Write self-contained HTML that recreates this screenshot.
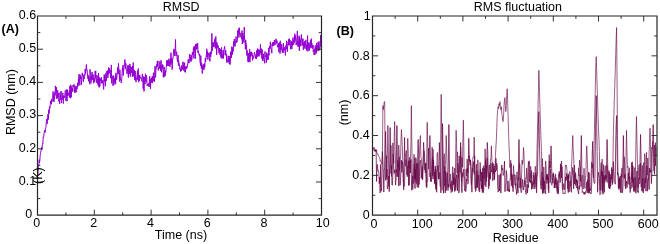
<!DOCTYPE html>
<html><head><meta charset="utf-8"><title>RMSD and RMS fluctuation</title>
<style>html,body{margin:0;padding:0;background:#fff;}svg{display:block;}</style></head>
<body>
<svg width="660" height="244" viewBox="0 0 660 244" font-family="Liberation Sans, Arial, Helvetica, sans-serif" fill="#000">
<rect width="660" height="244" fill="#fff"/>
<polyline points="37.50,174.00 37.78,174.34 38.07,172.15 38.35,166.29 38.64,165.71 38.92,165.98 39.20,159.70 39.49,162.80 39.77,161.42 40.06,156.70 40.34,154.30 40.62,152.62 40.91,151.11 41.19,149.58 41.48,150.15 41.76,147.35 42.04,148.94 42.33,144.86 42.61,143.37 42.90,143.79 43.18,136.87 43.46,137.29 43.75,136.88 44.03,133.69 44.32,131.46 44.60,131.26 44.88,129.94 45.17,132.46 45.45,129.49 45.74,127.93 46.02,126.59 46.30,122.14 46.59,121.16 46.87,119.02 47.16,123.97 47.44,118.07 47.72,117.82 48.01,114.30 48.29,119.56 48.58,110.73 48.86,109.62 49.14,113.71 49.43,106.70 49.71,108.25 50.00,108.33 50.28,104.58 50.56,100.86 50.85,100.97 51.13,102.65 51.42,104.35 51.70,99.31 51.98,101.83 52.27,97.84 52.55,97.55 52.84,95.96 53.12,91.40 53.40,100.53 53.69,94.24 53.97,101.95 54.26,96.07 54.54,99.10 54.82,92.39 55.11,95.48 55.39,85.88 55.68,92.29 55.96,89.53 56.24,92.25 56.53,87.25 56.81,98.95 57.10,94.77 57.38,98.01 57.66,90.29 57.95,96.68 58.23,95.61 58.52,93.13 58.80,101.17 59.08,99.17 59.37,101.99 59.65,103.79 59.94,92.78 60.22,92.32 60.50,99.44 60.79,97.24 61.07,91.04 61.36,103.11 61.64,98.09 61.92,99.30 62.21,99.77 62.49,98.81 62.78,92.82 63.06,94.37 63.34,103.54 63.63,96.04 63.91,96.57 64.20,95.89 64.48,97.67 64.76,95.54 65.05,92.55 65.33,90.39 65.62,92.55 65.90,100.96 66.18,98.22 66.47,95.79 66.75,89.38 67.04,101.23 67.32,89.86 67.60,95.65 67.89,94.99 68.17,92.83 68.46,94.34 68.74,94.48 69.02,96.11 69.31,90.63 69.59,97.48 69.88,85.83 70.16,97.95 70.44,98.21 70.73,84.77 71.01,90.50 71.30,97.27 71.58,86.58 71.86,91.50 72.15,92.07 72.43,88.42 72.72,91.02 73.00,85.15 73.28,87.03 73.57,86.49 73.85,84.37 74.14,84.54 74.42,92.59 74.70,87.05 74.99,85.71 75.27,86.96 75.56,92.44 75.84,87.26 76.12,92.22 76.41,86.69 76.69,86.17 76.98,89.26 77.26,88.75 77.54,82.91 77.83,84.84 78.11,86.23 78.40,79.20 78.68,84.01 78.96,74.10 79.25,78.55 79.53,77.77 79.82,85.40 80.10,74.68 80.38,78.03 80.67,78.87 80.95,76.88 81.24,79.40 81.52,84.75 81.80,77.28 82.09,74.13 82.37,72.93 82.66,75.70 82.94,74.48 83.22,80.83 83.51,81.71 83.79,75.74 84.08,78.86 84.36,74.64 84.64,75.34 84.93,75.61 85.21,68.93 85.50,73.94 85.78,70.02 86.06,69.02 86.35,64.50 86.63,67.57 86.92,70.82 87.20,70.32 87.48,76.29 87.77,77.80 88.05,79.08 88.34,74.95 88.62,81.35 88.90,79.87 89.19,79.41 89.47,77.33 89.76,84.21 90.04,69.37 90.32,72.88 90.61,74.18 90.89,83.38 91.18,78.34 91.46,75.74 91.74,80.23 92.03,72.02 92.31,78.85 92.60,79.51 92.88,78.21 93.16,74.51 93.45,78.27 93.73,83.23 94.02,78.00 94.30,81.76 94.58,79.93 94.87,78.94 95.15,71.06 95.44,77.71 95.72,70.87 96.00,79.44 96.29,82.70 96.57,82.61 96.86,75.12 97.14,75.80 97.42,78.39 97.71,83.96 97.99,82.62 98.28,85.71 98.56,73.04 98.84,85.34 99.13,87.35 99.41,77.48 99.70,86.66 99.98,85.87 100.26,78.53 100.55,79.26 100.83,80.82 101.12,81.44 101.40,77.21 101.68,83.15 101.97,81.28 102.25,83.40 102.54,82.39 102.82,80.10 103.10,83.31 103.39,86.68 103.67,89.35 103.96,79.03 104.24,74.52 104.52,81.37 104.81,75.19 105.09,78.56 105.38,86.29 105.66,77.93 105.94,72.83 106.23,78.16 106.51,80.64 106.80,71.40 107.08,73.02 107.36,70.45 107.65,76.31 107.93,78.00 108.22,73.69 108.50,67.62 108.78,74.04 109.07,70.73 109.35,70.57 109.64,68.23 109.92,72.82 110.20,70.56 110.49,76.92 110.77,78.25 111.06,73.88 111.34,64.90 111.62,83.26 111.91,76.02 112.19,75.84 112.48,77.69 112.76,78.03 113.04,85.75 113.33,75.64 113.61,79.01 113.90,84.95 114.18,81.17 114.46,78.23 114.75,81.88 115.03,82.78 115.32,75.77 115.60,84.17 115.88,72.84 116.17,77.21 116.45,79.58 116.74,79.54 117.02,75.08 117.30,73.80 117.59,67.50 117.87,70.47 118.16,74.01 118.44,63.41 118.72,67.27 119.01,72.76 119.29,75.17 119.58,81.46 119.86,69.72 120.14,75.09 120.43,79.79 120.71,79.08 121.00,81.51 121.28,83.02 121.56,81.49 121.85,77.20 122.13,73.24 122.42,67.84 122.70,70.63 122.98,65.19 123.27,75.53 123.55,69.69 123.84,69.94 124.12,67.42 124.40,63.78 124.69,60.70 124.97,59.50 125.26,65.57 125.54,68.61 125.82,63.31 126.11,69.36 126.39,70.64 126.68,69.88 126.96,73.85 127.24,73.09 127.53,67.49 127.81,65.46 128.10,71.97 128.38,77.53 128.66,65.35 128.95,74.07 129.23,69.25 129.52,73.77 129.80,63.86 130.08,65.83 130.37,76.46 130.65,66.28 130.94,68.70 131.22,68.83 131.50,67.11 131.79,73.03 132.07,69.86 132.36,76.81 132.64,66.13 132.92,74.37 133.21,62.51 133.49,76.24 133.78,69.82 134.06,73.00 134.34,70.34 134.63,79.92 134.91,78.14 135.20,71.11 135.48,80.47 135.76,77.10 136.05,82.13 136.33,77.54 136.62,76.97 136.90,76.49 137.18,74.32 137.47,70.80 137.75,79.95 138.04,71.62 138.32,68.55 138.60,82.20 138.89,79.62 139.17,75.89 139.46,80.96 139.74,74.95 140.02,76.84 140.31,76.96 140.59,78.13 140.88,78.38 141.16,77.69 141.44,77.83 141.73,79.59 142.01,81.43 142.30,73.89 142.58,76.77 142.86,77.00 143.15,88.76 143.43,82.14 143.72,76.41 144.00,91.37 144.28,77.13 144.57,79.98 144.85,83.55 145.14,84.12 145.42,73.73 145.70,76.25 145.99,82.12 146.27,76.63 146.56,75.34 146.84,78.43 147.12,85.82 147.41,85.09 147.69,84.00 147.98,86.00 148.26,85.78 148.54,83.40 148.83,84.75 149.11,87.02 149.40,80.62 149.68,76.20 149.96,84.82 150.25,80.18 150.53,88.89 150.82,78.67 151.10,82.67 151.38,82.76 151.67,78.06 151.95,81.64 152.24,76.27 152.52,83.09 152.80,76.15 153.09,81.09 153.37,72.76 153.66,75.15 153.94,80.74 154.22,77.22 154.51,81.75 154.79,70.96 155.08,66.00 155.36,76.91 155.64,77.40 155.93,68.52 156.21,68.86 156.50,65.06 156.78,64.33 157.06,66.14 157.35,61.00 157.63,66.54 157.92,60.76 158.20,70.48 158.48,69.16 158.77,67.41 159.05,68.17 159.34,68.41 159.62,66.95 159.90,61.37 160.19,68.79 160.47,65.16 160.76,71.00 161.04,60.32 161.32,67.42 161.61,72.26 161.89,67.44 162.18,64.64 162.46,68.47 162.74,64.81 163.03,64.96 163.31,77.35 163.60,71.97 163.88,72.43 164.16,66.90 164.45,76.57 164.73,72.85 165.02,76.21 165.30,75.44 165.58,70.83 165.87,72.17 166.15,67.33 166.44,66.01 166.72,60.67 167.00,64.17 167.29,60.39 167.57,65.89 167.86,60.36 168.14,62.79 168.42,66.02 168.71,59.72 168.99,58.72 169.28,62.96 169.56,60.95 169.84,66.90 170.13,64.25 170.41,58.43 170.70,64.66 170.98,52.63 171.26,61.94 171.55,63.11 171.83,58.08 172.12,69.61 172.40,64.81 172.68,58.95 172.97,58.86 173.25,55.21 173.54,52.07 173.82,49.04 174.10,49.27 174.39,51.68 174.67,55.97 174.96,50.07 175.24,47.96 175.52,39.50 175.81,53.59 176.09,55.85 176.38,53.53 176.66,51.71 176.94,56.88 177.23,60.21 177.51,60.00 177.80,62.01 178.08,55.12 178.36,65.58 178.65,60.71 178.93,63.45 179.22,63.49 179.50,66.41 179.78,69.20 180.07,69.44 180.35,68.80 180.64,71.50 180.92,70.26 181.20,66.33 181.49,70.60 181.77,65.40 182.06,66.21 182.34,68.85 182.62,69.32 182.91,61.78 183.19,69.68 183.48,70.40 183.76,68.62 184.04,62.57 184.33,69.21 184.61,62.92 184.90,72.12 185.18,67.35 185.46,72.32 185.75,66.67 186.03,66.18 186.32,66.75 186.60,68.89 186.88,66.16 187.17,67.42 187.45,64.20 187.74,64.63 188.02,61.15 188.30,59.17 188.59,63.05 188.87,62.43 189.16,63.08 189.44,54.81 189.72,53.91 190.01,55.34 190.29,60.22 190.58,57.34 190.86,61.79 191.14,55.08 191.43,60.37 191.71,60.13 192.00,58.98 192.28,52.65 192.56,52.09 192.85,54.92 193.13,55.02 193.42,47.43 193.70,54.55 193.98,58.42 194.27,45.87 194.55,50.74 194.84,49.56 195.12,49.40 195.40,58.65 195.69,43.99 195.97,47.68 196.26,49.49 196.54,49.17 196.82,43.67 197.11,48.81 197.39,45.58 197.68,43.00 197.96,52.79 198.24,50.70 198.53,52.00 198.81,54.23 199.10,54.00 199.38,55.88 199.66,53.99 199.95,61.02 200.23,63.07 200.52,65.65 200.80,55.64 201.08,63.22 201.37,68.42 201.65,62.94 201.94,67.09 202.22,73.60 202.50,71.90 202.79,65.29 203.07,68.75 203.36,64.35 203.64,69.76 203.92,69.73 204.21,69.20 204.49,63.50 204.78,67.38 205.06,62.62 205.34,58.08 205.63,61.87 205.91,59.26 206.20,55.00 206.48,54.83 206.76,48.73 207.05,57.13 207.33,53.61 207.62,51.44 207.90,59.64 208.18,56.22 208.47,53.84 208.75,53.08 209.04,52.92 209.32,52.61 209.60,57.27 209.89,61.40 210.17,57.59 210.46,52.08 210.74,56.90 211.02,51.44 211.31,54.03 211.59,48.28 211.88,33.37 212.16,50.92 212.44,44.56 212.73,42.59 213.01,46.43 213.30,47.07 213.58,42.29 213.86,46.57 214.15,46.63 214.43,42.54 214.72,39.50 215.00,38.49 215.28,48.49 215.57,38.23 215.85,36.49 216.14,41.76 216.42,44.87 216.70,54.90 216.99,42.40 217.27,46.62 217.56,46.83 217.84,48.04 218.12,45.45 218.41,49.28 218.69,48.67 218.98,53.24 219.26,49.70 219.54,48.01 219.83,53.18 220.11,54.92 220.40,49.30 220.68,54.65 220.96,57.58 221.25,52.40 221.53,47.37 221.82,58.39 222.10,54.70 222.38,57.29 222.67,58.39 222.95,50.08 223.24,52.55 223.52,58.36 223.80,50.60 224.09,49.63 224.37,47.36 224.66,46.30 224.94,49.22 225.22,55.18 225.51,50.74 225.79,50.30 226.08,55.25 226.36,54.01 226.64,61.23 226.93,62.66 227.21,59.69 227.50,59.92 227.78,61.87 228.06,55.73 228.35,57.11 228.63,61.46 228.92,59.92 229.20,63.68 229.48,56.13 229.77,57.53 230.05,64.59 230.34,61.43 230.62,51.67 230.90,56.37 231.19,53.89 231.47,57.86 231.76,46.66 232.04,48.06 232.32,54.68 232.61,49.75 232.89,47.48 233.18,51.53 233.46,43.61 233.74,41.33 234.03,46.30 234.31,39.00 234.60,42.08 234.88,45.12 235.16,46.38 235.45,44.45 235.73,40.75 236.02,36.64 236.30,39.62 236.58,42.71 236.87,40.86 237.15,41.64 237.44,39.02 237.72,30.50 238.00,37.76 238.29,32.23 238.57,29.13 238.86,28.50 239.14,34.56 239.42,27.72 239.71,33.06 239.99,37.28 240.28,35.50 240.56,34.60 240.84,33.29 241.13,35.83 241.41,37.53 241.70,39.14 241.98,30.57 242.26,44.10 242.55,42.38 242.83,33.00 243.12,36.09 243.40,36.12 243.68,41.33 243.97,42.79 244.25,27.09 244.54,39.03 244.82,38.95 245.10,40.67 245.39,49.37 245.67,40.03 245.96,42.78 246.24,46.04 246.52,44.81 246.81,55.44 247.09,50.39 247.38,52.75 247.66,55.00 247.94,61.78 248.23,55.83 248.51,53.28 248.80,62.19 249.08,55.08 249.36,61.30 249.65,49.13 249.93,62.13 250.22,51.93 250.50,57.12 250.78,53.76 251.07,56.19 251.35,51.83 251.64,54.42 251.92,53.76 252.20,52.92 252.49,60.29 252.77,55.29 253.06,58.80 253.34,57.42 253.62,57.38 253.91,57.19 254.19,54.59 254.48,52.20 254.76,53.64 255.04,53.75 255.33,55.31 255.61,58.53 255.90,55.74 256.18,57.15 256.46,58.89 256.75,50.34 257.03,54.17 257.32,56.99 257.60,48.53 257.88,55.94 258.17,53.70 258.45,55.37 258.74,49.38 259.02,56.43 259.30,51.11 259.59,50.43 259.87,54.90 260.16,53.34 260.44,44.47 260.72,53.00 261.01,49.14 261.29,48.56 261.58,49.87 261.86,58.46 262.14,49.66 262.43,60.98 262.71,57.73 263.00,54.27 263.28,58.82 263.56,53.83 263.85,58.67 264.13,61.24 264.42,59.44 264.70,63.31 264.98,51.49 265.27,57.05 265.55,55.93 265.84,55.83 266.12,55.74 266.40,62.68 266.69,52.61 266.97,55.74 267.26,59.25 267.54,59.89 267.82,53.97 268.11,59.71 268.39,54.09 268.68,48.03 268.96,55.39 269.24,47.52 269.53,46.14 269.81,48.52 270.10,47.52 270.38,41.77 270.66,46.93 270.95,49.00 271.23,48.94 271.52,49.83 271.80,53.21 272.08,43.74 272.37,45.78 272.65,42.45 272.94,45.44 273.22,46.07 273.50,42.22 273.79,45.14 274.07,45.22 274.36,40.02 274.64,42.36 274.92,45.18 275.21,43.42 275.49,41.27 275.78,41.04 276.06,38.81 276.34,43.51 276.63,43.02 276.91,40.56 277.20,43.92 277.48,47.24 277.76,46.20 278.05,45.49 278.33,46.94 278.62,43.21 278.90,52.18 279.18,44.44 279.47,45.85 279.75,42.39 280.04,53.58 280.32,40.77 280.60,47.11 280.89,50.02 281.17,50.21 281.46,44.00 281.74,46.78 282.02,49.72 282.31,52.82 282.59,49.30 282.88,50.44 283.16,44.08 283.44,43.33 283.73,52.72 284.01,46.95 284.30,50.05 284.58,49.73 284.86,49.53 285.15,47.59 285.43,55.40 285.72,48.91 286.00,45.28 286.28,49.03 286.57,40.79 286.85,43.69 287.14,48.31 287.42,51.73 287.70,45.77 287.99,42.22 288.27,42.60 288.56,39.39 288.84,45.41 289.12,39.30 289.41,38.59 289.69,44.77 289.98,40.05 290.26,44.79 290.54,49.18 290.83,44.70 291.11,41.19 291.40,41.12 291.68,48.93 291.96,49.20 292.25,42.80 292.53,45.28 292.82,38.87 293.10,37.54 293.38,42.06 293.67,44.93 293.95,40.07 294.24,42.59 294.52,34.50 294.80,33.63 295.09,40.59 295.37,36.91 295.66,35.40 295.94,42.87 296.22,45.17 296.51,41.80 296.79,41.16 297.08,36.83 297.36,30.86 297.64,44.73 297.93,46.54 298.21,41.44 298.50,46.37 298.78,41.52 299.06,35.71 299.35,50.86 299.63,37.28 299.92,41.91 300.20,39.45 300.48,42.97 300.77,46.30 301.05,42.91 301.34,34.50 301.62,39.87 301.90,38.72 302.19,45.35 302.47,45.42 302.76,39.05 303.04,38.61 303.32,49.76 303.61,46.35 303.89,42.56 304.18,44.23 304.46,47.38 304.74,41.07 305.03,48.75 305.31,45.30 305.60,42.69 305.88,39.80 306.16,43.61 306.45,50.44 306.73,44.62 307.02,47.13 307.30,47.65 307.58,35.58 307.87,51.37 308.15,42.64 308.44,49.08 308.72,43.24 309.00,46.51 309.29,50.66 309.57,48.17 309.86,44.69 310.14,41.94 310.42,47.23 310.71,40.19 310.99,48.23 311.28,38.63 311.56,45.82 311.84,43.00 312.13,47.79 312.41,45.01 312.70,48.64 312.98,45.07 313.26,51.86 313.55,50.42 313.83,49.70 314.12,55.08 314.40,52.43 314.68,48.84 314.97,54.67 315.25,45.42 315.54,50.56 315.82,50.98 316.10,53.54 316.39,52.78 316.67,42.93 316.96,51.41 317.24,48.79 317.52,45.00 317.81,47.44 318.09,42.05 318.38,43.93 318.66,50.76 318.94,41.37 319.23,47.15 319.51,50.25 319.80,49.62 320.08,45.47 320.36,44.16 320.65,35.07 320.93,46.83 321.22,36.08 321.50,38.78" fill="none" stroke="#9400d3" stroke-width="1.0" stroke-linejoin="round"/>
<polyline points="372.50,148.69 372.95,147.77 373.40,148.88 373.86,149.59 374.31,151.10 374.76,150.20 375.21,151.70 375.66,150.09 376.12,150.05 376.57,181.45 377.02,165.80 377.47,164.50 377.92,170.84 378.38,170.51 378.83,172.43 379.28,183.67 379.73,177.25 380.18,192.88 380.64,164.40 381.09,190.31 381.54,191.19 381.99,174.17 382.44,151.57 382.90,161.93 383.35,173.45 383.80,192.05 384.25,170.73 384.70,167.75 385.16,148.57 385.61,131.54 386.06,155.41 386.51,177.35 386.96,169.43 387.42,188.90 387.87,186.07 388.32,184.36 388.77,175.96 389.22,191.63 389.68,159.08 390.13,127.55 390.58,148.93 391.03,173.57 391.48,165.53 391.94,184.94 392.39,185.23 392.84,174.01 393.29,154.03 393.74,166.39 394.20,173.46 394.65,169.87 395.10,169.92 395.55,185.11 396.00,179.23 396.46,155.16 396.91,125.56 397.36,157.68 397.81,176.89 398.26,162.17 398.72,186.03 399.17,156.89 399.62,172.17 400.07,185.22 400.52,180.35 400.98,168.46 401.43,160.25 401.88,172.43 402.33,161.73 402.78,164.16 403.24,170.99 403.69,189.85 404.14,163.97 404.59,137.51 405.04,164.42 405.50,166.17 405.95,159.94 406.40,159.74 406.85,162.13 407.30,176.69 407.76,166.37 408.21,168.01 408.66,160.90 409.11,185.20 409.56,166.12 410.02,160.25 410.47,172.88 410.92,159.46 411.37,178.87 411.82,190.29 412.28,177.44 412.73,175.87 413.18,183.61 413.63,183.16 414.08,166.03 414.54,163.93 414.99,188.55 415.44,169.51 415.89,182.31 416.34,166.54 416.80,163.58 417.25,187.32 417.70,154.58 418.15,139.50 418.60,154.23 419.06,184.55 419.51,176.69 419.96,161.24 420.41,160.26 420.86,164.73 421.32,178.32 421.77,170.52 422.22,166.43 422.67,179.64 423.12,162.46 423.58,142.49 424.03,152.02 424.48,153.52 424.93,169.69 425.38,172.90 425.84,162.89 426.29,177.38 426.74,187.69 427.19,180.90 427.64,181.21 428.10,156.84 428.55,148.34 429.00,169.08 429.45,150.43 429.90,135.52 430.36,156.48 430.81,180.92 431.26,181.72 431.71,176.78 432.16,163.88 432.62,156.93 433.07,179.04 433.52,159.96 433.97,172.64 434.42,171.97 434.88,181.85 435.33,165.94 435.78,189.56 436.23,181.75 436.68,192.25 437.14,173.01 437.59,166.22 438.04,165.26 438.49,179.17 438.94,164.70 439.40,142.49 439.85,161.56 440.30,182.61 440.75,192.91 441.20,190.72 441.66,185.29 442.11,155.76 442.56,123.57 443.01,147.85 443.46,193.28 443.92,186.01 444.37,175.68 444.82,166.43 445.27,192.91 445.72,171.32 446.18,190.66 446.63,177.20 447.08,172.77 447.53,173.79 447.98,190.47 448.44,158.04 448.89,124.56 449.34,157.93 449.79,181.52 450.24,186.54 450.70,183.81 451.15,192.60 451.60,190.68 452.05,181.37 452.50,191.46 452.96,172.82 453.41,178.90 453.86,184.63 454.31,187.00 454.76,191.59 455.22,178.60 455.67,190.35 456.12,186.23 456.57,174.56 457.02,178.55 457.48,190.91 457.93,163.33 458.38,170.20 458.83,193.01 459.28,190.63 459.74,168.97 460.19,161.25 460.64,142.49 461.09,157.24 461.54,187.77 462.00,192.69 462.45,172.71 462.90,176.60 463.35,170.38 463.80,169.36 464.26,185.02 464.71,190.66 465.16,189.01 465.61,191.74 466.06,191.07 466.52,179.07 466.97,181.01 467.42,168.07 467.87,172.83 468.32,161.25 468.78,138.31 469.23,154.18 469.68,158.89 470.13,165.05 470.58,160.43 471.04,166.66 471.49,184.46 471.94,192.16 472.39,168.05 472.84,171.81 473.30,163.71 473.75,161.60 474.20,174.33 474.65,155.76 475.10,184.98 475.56,191.49 476.01,190.49 476.46,184.19 476.91,170.89 477.36,187.28 477.82,175.47 478.27,174.95 478.72,180.14 479.17,191.24 479.62,192.10 480.08,184.06 480.53,169.01 480.98,178.66 481.43,188.62 481.88,184.61 482.34,192.46 482.79,167.72 483.24,192.73 483.69,190.37 484.14,168.77 484.60,168.23 485.05,185.35 485.50,159.41 485.95,167.82 486.40,181.47 486.86,156.83 487.31,142.49 487.76,151.86 488.21,172.15 488.66,172.66 489.12,186.16 489.57,173.27 490.02,172.77 490.47,178.33 490.92,163.01 491.38,172.17 491.83,170.16 492.28,168.25 492.73,162.64 493.18,173.83 493.64,169.94 494.09,167.55 494.54,179.33 494.99,169.93 495.44,172.03 495.90,158.33 496.35,170.45 496.80,163.42 497.25,167.67 497.70,186.72 498.16,192.18 498.61,190.41 499.06,174.91 499.51,191.02 499.96,184.10 500.42,173.67 500.87,193.09 501.32,171.25 501.77,164.96 502.22,170.18 502.68,168.41 503.13,175.51 503.58,174.33 504.03,172.01 504.48,161.16 504.94,191.68 505.39,184.67 505.84,184.06 506.29,170.51 506.74,173.68 507.20,191.03 507.65,186.83 508.10,180.98 508.55,191.32 509.00,189.29 509.46,191.88 509.91,181.78 510.36,177.15 510.81,167.16 511.26,163.40 511.72,185.72 512.17,175.10 512.62,183.32 513.07,191.68 513.52,180.54 513.98,174.28 514.43,177.61 514.88,184.77 515.33,183.68 515.78,188.80 516.24,189.86 516.69,194.49 517.14,183.71 517.59,185.26 518.04,193.06 518.50,164.48 518.95,139.50 519.40,159.67 519.85,187.90 520.30,178.09 520.76,190.52 521.21,192.67 521.66,191.61 522.11,184.66 522.56,179.42 523.02,188.42 523.47,189.98 523.92,185.84 524.37,180.25 524.82,183.16 525.28,189.17 525.73,192.51 526.18,194.25 526.63,188.30 527.08,183.88 527.54,192.97 527.99,184.71 528.44,187.67 528.89,172.14 529.34,179.70 529.80,181.71 530.25,180.24 530.70,183.09 531.15,173.21 531.60,189.37 532.06,181.40 532.51,185.74 532.96,188.80 533.41,185.61 533.86,175.24 534.32,178.95 534.77,188.84 535.22,184.40 535.67,172.79 536.12,174.23 536.58,192.86 537.03,177.37 537.48,174.56 537.93,149.46 538.38,125.56 538.84,111.62 539.29,135.52 539.74,155.44 540.19,177.21 540.64,186.59 541.10,189.31 541.55,188.25 542.00,171.77 542.45,193.49 542.90,181.63 543.36,177.30 543.81,193.36 544.26,180.82 544.71,186.03 545.16,192.95 545.62,193.86 546.07,176.26 546.52,174.78 546.97,183.52 547.42,176.71 547.88,177.12 548.33,177.65 548.78,192.90 549.23,168.92 549.68,161.00 550.14,168.27 550.59,164.83 551.04,145.88 551.49,160.45 551.94,178.50 552.40,178.09 552.85,183.29 553.30,172.75 553.75,175.66 554.20,177.52 554.66,187.50 555.11,179.28 555.56,184.62 556.01,177.74 556.46,183.24 556.92,191.02 557.37,193.41 557.82,187.16 558.27,193.92 558.72,187.29 559.18,171.48 559.63,176.33 560.08,182.55 560.53,180.51 560.98,165.32 561.44,177.91 561.89,166.73 562.34,176.55 562.79,192.33 563.24,193.92 563.70,193.25 564.15,193.42 564.60,192.99 565.05,193.88 565.50,177.02 565.96,180.87 566.41,173.41 566.86,179.34 567.31,175.57 567.76,183.76 568.22,192.60 568.67,174.98 569.12,191.91 569.57,183.68 570.02,180.83 570.48,184.30 570.93,190.47 571.38,192.34 571.83,178.10 572.28,175.61 572.74,167.53 573.19,175.54 573.64,188.72 574.09,171.42 574.54,183.94 575.00,174.25 575.45,185.37 575.90,184.59 576.35,179.08 576.80,182.68 577.26,181.25 577.71,189.66 578.16,191.90 578.61,193.99 579.06,186.16 579.52,189.29 579.97,174.79 580.42,181.24 580.87,159.06 581.32,135.52 581.78,164.99 582.23,192.52 582.68,191.66 583.13,192.24 583.58,191.95 584.04,194.55 584.49,192.05 584.94,194.35 585.39,193.62 585.84,190.93 586.30,190.79 586.75,181.90 587.20,192.93 587.65,179.67 588.10,185.71 588.56,193.34 589.01,172.73 589.46,191.76 589.91,191.96 590.36,193.93 590.82,193.50 591.27,193.61 591.72,182.95 592.17,157.36 592.62,141.50 593.08,160.40 593.53,178.62 593.98,182.05 594.43,183.53 594.88,182.66 595.34,145.48 595.79,115.60 596.24,95.68 596.69,125.56 597.14,151.46 597.60,192.25 598.05,177.95 598.50,172.07 598.95,175.43 599.40,178.52 599.86,194.72 600.31,194.40 600.76,193.58 601.21,170.65 601.66,173.39 602.12,190.32 602.57,171.82 603.02,194.38 603.47,187.18 603.92,175.36 604.38,192.42 604.83,176.66 605.28,179.73 605.73,174.84 606.18,181.90 606.64,160.81 607.09,139.50 607.54,157.20 607.99,178.98 608.44,184.31 608.90,187.75 609.35,172.02 609.80,188.93 610.25,185.03 610.70,177.27 611.16,179.12 611.61,176.11 612.06,169.22 612.51,184.57 612.96,181.11 613.42,161.70 613.87,171.48 614.32,179.58 614.77,181.11 615.22,184.16 615.68,143.49 616.13,125.56 616.58,115.60 617.03,149.46 617.48,174.88 617.94,172.92 618.39,176.34 618.84,189.44 619.29,178.53 619.74,188.00 620.20,176.03 620.65,183.95 621.10,192.76 621.55,173.94 622.00,177.10 622.46,170.40 622.91,164.47 623.36,135.52 623.81,159.51 624.26,178.48 624.72,174.12 625.17,174.18 625.62,189.04 626.07,184.46 626.52,181.06 626.98,187.67 627.43,184.24 627.88,177.54 628.33,172.85 628.78,184.28 629.24,184.64 629.69,176.64 630.14,192.55 630.59,189.30 631.04,188.44 631.50,186.90 631.95,172.33 632.40,182.18 632.85,165.77 633.30,184.31 633.76,186.87 634.21,191.66 634.66,186.83 635.11,177.06 635.56,192.54 636.02,193.35 636.47,187.52 636.92,171.03 637.37,191.91 637.82,191.24 638.28,192.81 638.73,178.07 639.18,179.30 639.63,176.74 640.08,158.06 640.54,134.52 640.99,154.33 641.44,190.83 641.89,190.67 642.34,191.43 642.80,178.26 643.25,192.98 643.70,191.44 644.15,179.56 644.60,188.22 645.06,178.32 645.51,177.92 645.96,191.18 646.41,179.27 646.86,166.02 647.32,191.24 647.77,179.75 648.22,178.36 648.67,182.50 649.12,189.60 649.58,168.08 650.03,172.34 650.48,170.49 650.93,170.06 651.38,183.64 651.84,173.89 652.29,147.81 652.74,141.90 653.19,124.56 653.64,143.77 654.10,170.36 654.55,174.31 655.00,158.86 655.45,165.69 655.90,146.91" fill="none" stroke="#670748" stroke-width="0.75" stroke-linejoin="round"/>
<polyline points="372.50,147.82 372.95,148.98 373.40,148.03 373.86,148.31 374.31,147.39 374.76,150.15 375.21,149.17 375.66,150.08 376.12,151.11 376.57,149.74 377.02,153.79 377.47,153.92 377.92,153.74 378.38,155.28 378.83,156.24 379.28,156.85 379.73,157.55 380.18,161.07 380.64,160.64 381.09,162.39 381.54,163.24 381.99,164.09 382.44,149.27 382.90,105.64 383.35,109.62 383.80,105.64 384.25,101.66 384.70,101.66 385.16,172.31 385.61,180.38 386.06,166.33 386.51,155.71 386.96,179.73 387.42,153.91 387.87,125.56 388.32,143.60 388.77,184.32 389.22,186.67 389.68,170.18 390.13,168.51 390.58,165.44 391.03,145.37 391.48,176.33 391.94,170.21 392.39,166.89 392.84,142.92 393.29,153.64 393.74,163.15 394.20,137.24 394.65,121.58 395.10,149.49 395.55,164.31 396.00,172.51 396.46,169.70 396.91,176.63 397.36,167.45 397.81,159.92 398.26,166.94 398.72,144.94 399.17,153.54 399.62,170.72 400.07,167.78 400.52,159.50 400.98,140.90 401.43,129.54 401.88,137.70 402.33,146.63 402.78,162.26 403.24,181.96 403.69,185.09 404.14,186.37 404.59,185.48 405.04,162.05 405.50,153.65 405.95,152.98 406.40,150.56 406.85,174.68 407.30,151.26 407.76,138.31 408.21,150.07 408.66,185.55 409.11,161.47 409.56,157.33 410.02,168.62 410.47,158.45 410.92,143.97 411.37,105.64 411.82,140.93 412.28,171.30 412.73,189.26 413.18,182.43 413.63,167.49 414.08,154.27 414.54,179.68 414.99,157.79 415.44,178.57 415.89,157.71 416.34,161.69 416.80,184.29 417.25,166.75 417.70,163.34 418.15,164.86 418.60,187.62 419.06,163.17 419.51,154.18 419.96,142.50 420.41,135.52 420.86,157.43 421.32,159.08 421.77,162.24 422.22,179.35 422.67,173.66 423.12,163.33 423.58,154.61 424.03,150.79 424.48,168.23 424.93,169.78 425.38,163.74 425.84,171.88 426.29,186.83 426.74,153.77 427.19,122.37 427.64,142.63 428.10,155.18 428.55,166.72 429.00,169.16 429.45,169.41 429.90,177.04 430.36,172.69 430.81,181.67 431.26,171.74 431.71,165.30 432.16,147.16 432.62,176.08 433.07,149.26 433.52,169.54 433.97,169.24 434.42,183.75 434.88,171.90 435.33,184.47 435.78,169.41 436.23,186.34 436.68,173.48 437.14,153.10 437.59,152.42 438.04,171.52 438.49,172.20 438.94,179.20 439.40,176.61 439.85,172.19 440.30,186.45 440.75,133.59 441.20,94.29 441.66,134.75 442.11,149.42 442.56,163.95 443.01,190.38 443.46,169.18 443.92,155.30 444.37,153.71 444.82,186.07 445.27,165.11 445.72,159.08 446.18,135.52 446.63,147.77 447.08,167.70 447.53,181.44 447.98,187.26 448.44,184.21 448.89,187.50 449.34,179.80 449.79,179.05 450.24,174.00 450.70,189.37 451.15,187.10 451.60,180.74 452.05,181.43 452.50,166.95 452.96,166.96 453.41,184.43 453.86,177.03 454.31,184.96 454.76,168.02 455.22,187.27 455.67,155.46 456.12,130.34 456.57,142.60 457.02,173.22 457.48,151.85 457.93,158.45 458.38,178.15 458.83,174.43 459.28,155.88 459.74,168.21 460.19,172.46 460.64,146.83 461.09,173.89 461.54,181.81 462.00,157.39 462.45,167.35 462.90,142.10 463.35,120.18 463.80,144.99 464.26,178.22 464.71,177.50 465.16,185.43 465.61,188.64 466.06,169.15 466.52,176.01 466.97,158.99 467.42,160.69 467.87,184.18 468.32,181.85 468.78,155.48 469.23,155.77 469.68,162.01 470.13,159.62 470.58,162.59 471.04,182.46 471.49,185.08 471.94,176.75 472.39,170.73 472.84,157.42 473.30,157.76 473.75,155.69 474.20,137.11 474.65,160.96 475.10,188.81 475.56,186.96 476.01,176.65 476.46,164.13 476.91,188.04 477.36,179.86 477.82,159.86 478.27,168.66 478.72,186.58 479.17,190.39 479.62,174.07 480.08,162.32 480.53,167.12 480.98,180.98 481.43,171.99 481.88,188.03 482.34,172.17 482.79,190.70 483.24,183.91 483.69,165.54 484.14,178.51 484.60,175.53 485.05,148.83 485.50,160.35 485.95,186.97 486.40,165.58 486.86,177.25 487.31,157.61 487.76,169.60 488.21,174.59 488.66,189.00 489.12,166.32 489.57,164.91 490.02,179.74 490.47,159.28 490.92,159.60 491.38,145.88 491.83,157.80 492.28,165.19 492.73,180.99 493.18,164.92 493.64,163.90 494.09,180.08 494.54,165.95 494.99,167.39 495.44,155.44 495.90,147.47 496.35,139.50 496.80,127.55 497.25,115.60 497.70,109.62 498.16,106.64 498.61,108.63 499.06,103.65 499.51,105.64 499.96,101.66 500.42,107.63 500.87,109.62 501.32,106.64 501.77,113.61 502.22,115.60 502.68,120.58 503.13,121.58 503.58,115.60 504.03,105.64 504.48,99.66 504.94,97.67 505.39,105.64 505.84,111.62 506.29,105.64 506.74,95.68 507.20,88.71 507.65,99.66 508.10,115.60 508.55,131.54 509.00,145.48 509.46,155.44 509.91,167.67 510.36,161.99 510.81,160.28 511.26,179.61 511.72,173.61 512.17,186.03 512.62,187.64 513.07,176.78 513.52,165.55 513.98,173.95 514.43,175.88 514.88,175.85 515.33,175.31 515.78,185.56 516.24,180.28 516.69,174.87 517.14,171.84 517.59,188.28 518.04,177.23 518.50,180.13 518.95,169.65 519.40,163.71 519.85,163.51 520.30,175.50 520.76,187.25 521.21,187.61 521.66,172.28 522.11,160.07 522.56,164.35 523.02,160.78 523.47,147.47 523.92,152.17 524.37,167.43 524.82,184.05 525.28,186.70 525.73,177.79 526.18,178.42 526.63,168.15 527.08,183.47 527.54,178.45 527.99,168.10 528.44,161.44 528.89,172.15 529.34,160.78 529.80,181.58 530.25,176.08 530.70,166.28 531.15,177.95 531.60,170.54 532.06,185.27 532.51,184.40 532.96,185.68 533.41,172.46 533.86,173.32 534.32,183.90 534.77,177.70 535.22,166.25 535.67,170.13 536.12,187.13 536.58,174.70 537.03,149.46 537.48,131.54 537.93,111.62 538.38,91.70 538.84,70.38 539.29,83.73 539.74,99.66 540.19,115.60 540.64,129.54 541.10,141.50 541.55,151.46 542.00,185.39 542.45,158.67 542.90,175.45 543.36,191.35 543.81,166.95 544.26,189.52 544.71,187.83 545.16,188.05 545.62,160.94 546.07,166.48 546.52,179.76 546.97,174.13 547.42,180.13 547.88,174.19 548.33,189.68 548.78,163.21 549.23,154.56 549.68,164.06 550.14,182.77 550.59,168.92 551.04,181.76 551.49,184.31 551.94,185.21 552.40,176.94 552.85,173.89 553.30,176.29 553.75,175.31 554.20,187.94 554.66,184.66 555.11,188.01 555.56,173.87 556.01,183.57 556.46,182.59 556.92,188.45 557.37,180.30 557.82,190.70 558.27,178.64 558.72,174.13 559.18,173.54 559.63,176.08 560.08,177.35 560.53,163.79 560.98,171.69 561.44,161.01 561.89,168.93 562.34,189.10 562.79,189.91 563.24,189.34 563.70,183.67 564.15,187.90 564.60,189.60 565.05,171.26 565.50,164.93 565.96,166.10 566.41,165.43 566.86,169.48 567.31,175.71 567.76,189.00 568.22,173.85 568.67,178.58 569.12,174.58 569.57,171.68 570.02,172.65 570.48,180.91 570.93,185.81 571.38,169.38 571.83,159.90 572.28,147.52 572.74,135.52 573.19,149.97 573.64,155.37 574.09,171.99 574.54,165.16 575.00,181.85 575.45,172.55 575.90,175.46 576.35,187.92 576.80,187.05 577.26,180.46 577.71,189.42 578.16,179.91 578.61,167.75 579.06,175.97 579.52,160.18 579.97,166.27 580.42,167.05 580.87,186.66 581.32,186.14 581.78,176.48 582.23,175.15 582.68,176.21 583.13,188.97 583.58,182.71 584.04,168.26 584.49,182.76 584.94,188.47 585.39,176.63 585.84,176.82 586.30,155.51 586.75,145.88 587.20,156.10 587.65,170.02 588.10,191.76 588.56,172.13 589.01,175.95 589.46,192.70 589.91,188.39 590.36,190.89 590.82,183.99 591.27,169.51 591.72,162.09 592.17,168.04 592.62,164.09 593.08,173.93 593.53,177.95 593.98,149.46 594.43,129.54 594.88,107.63 595.34,87.71 595.79,65.80 596.24,56.64 596.69,71.78 597.14,85.72 597.60,101.66 598.05,115.60 598.50,127.55 598.95,139.50 599.40,151.46 599.86,173.63 600.31,190.20 600.76,169.18 601.21,162.58 601.66,176.04 602.12,159.12 602.57,192.50 603.02,177.99 603.47,164.67 603.92,183.10 604.38,173.25 604.83,169.06 605.28,165.74 605.73,179.04 606.18,176.12 606.64,177.44 607.09,165.12 607.54,169.86 607.99,182.82 608.44,176.03 608.90,170.36 609.35,189.04 609.80,188.18 610.25,174.12 610.70,186.35 611.16,180.50 611.61,167.45 612.06,181.65 612.51,183.15 612.96,160.46 613.42,131.54 613.87,115.60 614.32,99.66 614.77,85.72 615.22,71.78 615.68,55.84 616.13,39.90 616.58,27.55 617.03,75.76 617.48,135.52 617.94,172.57 618.39,188.44 618.84,183.24 619.29,177.57 619.74,180.69 620.20,190.50 620.65,192.39 621.10,173.02 621.55,172.12 622.00,168.03 622.46,192.82 622.91,189.07 623.36,178.01 623.81,166.21 624.26,156.87 624.72,164.26 625.17,186.36 625.62,181.27 626.07,155.02 626.52,130.34 626.98,151.81 627.43,167.40 627.88,166.38 628.33,179.18 628.78,177.54 629.24,167.71 629.69,180.03 630.14,188.96 630.59,184.58 631.04,180.68 631.50,162.48 631.95,179.89 632.40,161.77 632.85,187.33 633.30,178.09 633.76,191.39 634.21,167.70 634.66,167.83 635.11,190.02 635.56,164.91 636.02,138.12 636.47,116.60 636.92,138.15 637.37,159.52 637.82,187.69 638.28,177.91 638.73,167.44 639.18,164.62 639.63,184.12 640.08,182.09 640.54,162.99 640.99,186.41 641.44,187.27 641.89,182.74 642.34,165.33 642.80,190.38 643.25,182.79 643.70,162.56 644.15,180.17 644.60,153.69 645.06,157.71 645.51,182.84 645.96,171.98 646.41,152.43 646.86,172.58 647.32,175.11 647.77,157.99 648.22,171.90 648.67,179.51 649.12,151.94 649.58,141.97 650.03,128.15 650.48,145.89 650.93,172.18 651.38,157.46 651.84,147.24 652.29,148.73 652.74,141.78 653.19,149.14 653.64,156.73 654.10,171.12 654.55,144.97 655.00,159.52 655.45,142.66 655.90,156.48" fill="none" stroke="#670748" stroke-width="0.65" stroke-linejoin="round"/>
<path d="M37.5,16.0H321.5V215.2H37.5Z M372.5,16.0H657.0V215.2H372.5Z" fill="none" stroke="#262626" stroke-width="1.2"/>
<path d="M65.90,215.2v-2.8M65.90,16.0v2.8M94.30,215.2v-5.5M94.30,16.0v5.5M122.70,215.2v-2.8M122.70,16.0v2.8M151.10,215.2v-5.5M151.10,16.0v5.5M179.50,215.2v-2.8M179.50,16.0v2.8M207.90,215.2v-5.5M207.90,16.0v5.5M236.30,215.2v-2.8M236.30,16.0v2.8M264.70,215.2v-5.5M264.70,16.0v5.5M293.10,215.2v-2.8M293.10,16.0v2.8M37.5,198.60h2.8M321.5,198.60h-2.8M37.5,182.00h5.5M321.5,182.00h-5.5M37.5,165.40h2.8M321.5,165.40h-2.8M37.5,148.80h5.5M321.5,148.80h-5.5M37.5,132.20h2.8M321.5,132.20h-2.8M37.5,115.60h5.5M321.5,115.60h-5.5M37.5,99.00h2.8M321.5,99.00h-2.8M37.5,82.40h5.5M321.5,82.40h-5.5M37.5,65.80h2.8M321.5,65.80h-2.8M37.5,49.20h5.5M321.5,49.20h-5.5M37.5,32.60h2.8M321.5,32.60h-2.8M395.10,215.2v-2.8M395.10,16.0v2.8M417.70,215.2v-5.5M417.70,16.0v5.5M440.30,215.2v-2.8M440.30,16.0v2.8M462.90,215.2v-5.5M462.90,16.0v5.5M485.50,215.2v-2.8M485.50,16.0v2.8M508.10,215.2v-5.5M508.10,16.0v5.5M530.70,215.2v-2.8M530.70,16.0v2.8M553.30,215.2v-5.5M553.30,16.0v5.5M575.90,215.2v-2.8M575.90,16.0v2.8M598.50,215.2v-5.5M598.50,16.0v5.5M621.10,215.2v-2.8M621.10,16.0v2.8M643.70,215.2v-5.5M643.70,16.0v5.5M372.5,195.28h2.8M657.0,195.28h-2.8M372.5,175.36h5.5M657.0,175.36h-5.5M372.5,155.44h2.8M657.0,155.44h-2.8M372.5,135.52h5.5M657.0,135.52h-5.5M372.5,115.60h2.8M657.0,115.60h-2.8M372.5,95.68h5.5M657.0,95.68h-5.5M372.5,75.76h2.8M657.0,75.76h-2.8M372.5,55.84h5.5M657.0,55.84h-5.5M372.5,35.92h2.8M657.0,35.92h-2.8" fill="none" stroke="#333" stroke-width="1"/>
<text x="181.2" y="11" font-size="12.5" text-anchor="middle" >RMSD</text><text x="1.5" y="33" font-size="12.5" text-anchor="start" font-weight="bold">(A)</text><text x="28.7" y="217.79999999999998" font-size="12.5" text-anchor="middle" >0</text><text x="36.2" y="184.8" font-size="12.5" text-anchor="end" >0.1</text><text x="36.2" y="151.6" font-size="12.5" text-anchor="end" >0.2</text><text x="36.2" y="118.39999999999998" font-size="12.5" text-anchor="end" >0.3</text><text x="36.2" y="85.19999999999997" font-size="12.5" text-anchor="end" >0.4</text><text x="36.2" y="51.999999999999986" font-size="12.5" text-anchor="end" >0.5</text><text x="36.2" y="18.799999999999972" font-size="12.5" text-anchor="end" >0.6</text><text x="36.7" y="227.0" font-size="12.5" text-anchor="middle" >0</text><text x="93.7" y="227.0" font-size="12.5" text-anchor="middle" >2</text><text x="150.5" y="227.0" font-size="12.5" text-anchor="middle" >4</text><text x="207.3" y="227.0" font-size="12.5" text-anchor="middle" >6</text><text x="264.09999999999997" y="227.0" font-size="12.5" text-anchor="middle" >8</text><text x="322.8" y="227.0" font-size="12.5" text-anchor="middle" >10</text><text x="181" y="238.8" font-size="12.5" text-anchor="middle" >Time (ns)</text><text transform="translate(14.5,102.1) rotate(-90)" font-size="12.5" text-anchor="middle">RMSD (nm)</text><text transform="translate(42.3,175.6) rotate(-90)" font-size="12.5" text-anchor="middle">(K)</text><text x="517.9" y="11" font-size="12.5" text-anchor="middle" >RMS fluctuation</text><text x="336.5" y="34.8" font-size="12.5" text-anchor="start" font-weight="bold">(B)</text><text x="369.6" y="219.0" font-size="12.5" text-anchor="end" >0</text><text x="369.6" y="179.16" font-size="12.5" text-anchor="end" >0.2</text><text x="369.6" y="139.32" font-size="12.5" text-anchor="end" >0.4</text><text x="369.6" y="99.47999999999998" font-size="12.5" text-anchor="end" >0.6</text><text x="369.6" y="59.63999999999997" font-size="12.5" text-anchor="end" >0.8</text><text x="370.6" y="19.8" font-size="12.5" text-anchor="end" >1</text><text x="374.0" y="228.2" font-size="12.5" text-anchor="middle" >0</text><text x="422.2" y="228.2" font-size="12.5" text-anchor="middle" >100</text><text x="467.4" y="228.2" font-size="12.5" text-anchor="middle" >200</text><text x="512.6" y="228.2" font-size="12.5" text-anchor="middle" >300</text><text x="557.8" y="228.2" font-size="12.5" text-anchor="middle" >400</text><text x="603.0" y="228.2" font-size="12.5" text-anchor="middle" >500</text><text x="648.2" y="228.2" font-size="12.5" text-anchor="middle" >600</text><text x="515.7" y="241.6" font-size="12.5" text-anchor="middle" >Residue</text><text transform="translate(347.6,112.5) rotate(-90)" font-size="12.5" text-anchor="middle">(nm)</text>
</svg>
</body></html>
